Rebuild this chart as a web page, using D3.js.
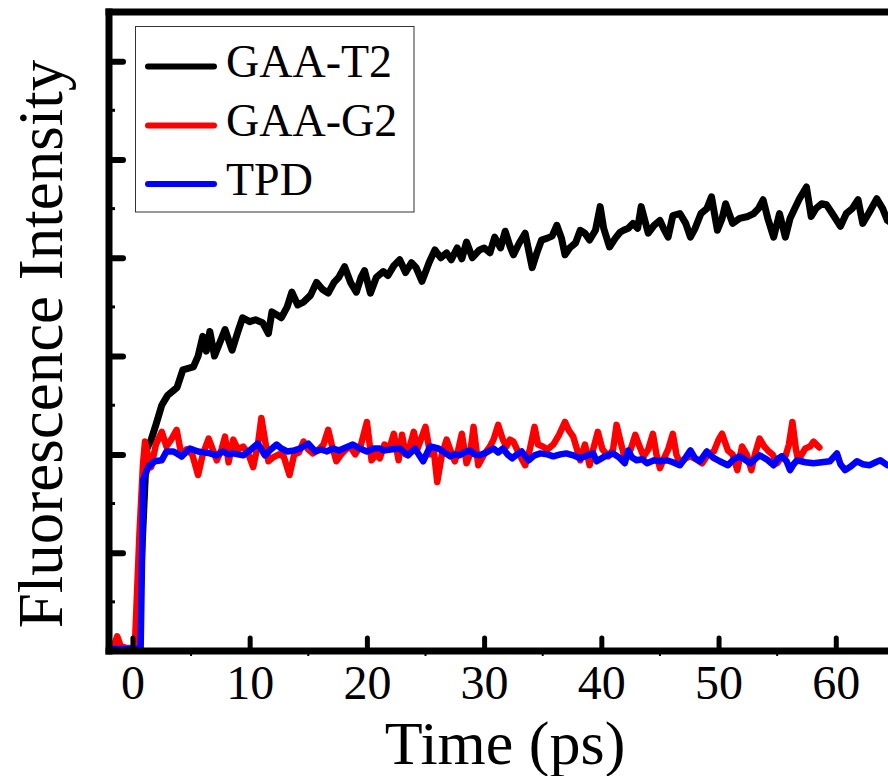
<!DOCTYPE html>
<html>
<head>
<meta charset="utf-8">
<script src="https://cdn.jsdelivr.net/npm/d3@7"></script>
<style>
  body { margin: 0; background: #fff; }
  svg { display: block; font-family: "Liberation Serif", "Times New Roman", serif; }
</style>
</head>
<body>
<svg id="chart" width="888" height="776"></svg>
<script>
// series: time (ps) and intensity (a.u., one major tick = 1)
const t2Time = [-2, 0.5, 0.8, 1.2, 1.6, 2.0, 2.5, 3.0, 3.5, 3.8, 4.3, 5.2, 5.6, 6.0, 6.3, 6.6, 7.0, 7.5, 7.9, 8.5, 9.0, 9.4, 10.0, 10.5, 11.1, 11.6, 11.9, 12.3, 12.7, 13.2, 13.6, 14.1, 14.6, 15.2, 15.7, 16.2, 16.7, 17.2, 17.6, 18.1, 18.6, 19.1, 19.5, 19.8, 20.3, 20.8, 21.4, 21.8, 22.3, 22.8, 23.3, 23.8, 24.2, 24.7, 25.3, 25.8, 26.3, 26.8, 27.2, 27.7, 28.1, 28.5, 29.0, 29.6, 30.0, 30.5, 30.9, 31.4, 31.8, 32.2, 32.5, 33.0, 33.5, 34.1, 34.5, 34.9, 35.4, 35.8, 36.2, 36.6, 36.9, 37.3, 37.8, 38.2, 38.6, 39.0, 39.5, 39.9, 40.2, 40.7, 41.2, 41.6, 41.9, 42.3, 42.7, 43.1, 43.4, 44.0, 44.5, 45.0, 45.3, 45.7, 46.1, 46.7, 47.2, 47.6, 48.0, 48.5, 49.0, 49.4, 49.9, 50.3, 50.6, 51.2, 51.8, 52.5, 53.0, 53.4, 53.8, 54.2, 54.7, 55.2, 55.7, 56.1, 56.5, 56.9, 57.5, 57.9, 58.3, 58.8, 59.2, 59.7, 60.4, 60.9, 61.4, 61.9, 62.3, 62.8, 63.5, 64.0, 64.4, 64.8, 65.2];
const t2Value = [0.02, 0.02, 1.0, 2.05, 2.15, 2.3, 2.5, 2.6, 2.65, 2.68, 2.86, 2.89, 3.0, 3.2, 3.05, 3.25, 3.0, 3.15, 3.27, 3.06, 3.25, 3.39, 3.35, 3.37, 3.34, 3.23, 3.45, 3.42, 3.39, 3.5, 3.65, 3.52, 3.55, 3.62, 3.75, 3.68, 3.64, 3.75, 3.8, 3.91, 3.75, 3.65, 3.8, 3.87, 3.64, 3.8, 3.86, 3.82, 3.92, 3.98, 3.85, 3.95, 3.9, 3.76, 3.95, 4.08, 4.0, 4.05, 3.98, 4.1, 3.99, 4.16, 4.0, 4.08, 4.1, 4.05, 4.21, 4.1, 4.27, 4.12, 4.03, 4.15, 4.25, 3.9, 4.05, 4.18, 4.2, 4.22, 4.33, 4.2, 4.03, 4.1, 4.15, 4.28, 4.25, 4.18, 4.28, 4.52, 4.3, 4.11, 4.2, 4.26, 4.28, 4.3, 4.35, 4.3, 4.52, 4.25, 4.33, 4.38, 4.3, 4.21, 4.43, 4.45, 4.35, 4.21, 4.3, 4.45, 4.5, 4.62, 4.28, 4.4, 4.55, 4.35, 4.4, 4.42, 4.45, 4.5, 4.59, 4.4, 4.21, 4.45, 4.21, 4.4, 4.5, 4.6, 4.72, 4.42, 4.5, 4.55, 4.54, 4.45, 4.32, 4.45, 4.5, 4.59, 4.35, 4.45, 4.6, 4.5, 4.38, 4.35, 4.4];

const g2Time = [-2, -1.6, -1.3, -1.0, -0.5, 0.2, 0.6, 0.9, 1.07, 1.3, 1.6, 2.0, 2.5, 2.9, 3.3, 3.77, 4.2, 4.6, 5.1, 5.6, 6.0, 6.5, 7.2, 7.6, 7.9, 8.2, 8.6, 9.0, 9.45, 9.9, 10.3, 10.7, 11.0, 11.3, 11.6, 12.0, 12.5, 12.9, 13.4, 13.8, 14.2, 14.6, 15.0, 15.4, 15.9, 16.3, 16.7, 17.0, 17.4, 17.8, 18.2, 18.6, 19.0, 19.5, 20.0, 20.4, 20.8, 21.1, 21.5, 21.9, 22.3, 22.7, 23.0, 23.3, 23.7, 24.0, 24.3, 24.6, 25.0, 25.4, 25.7, 26.0, 26.4, 26.8, 27.1, 27.5, 27.8, 28.1, 28.5, 28.8, 29.1, 29.5, 30.0, 30.5, 30.8, 31.2, 31.6, 31.9, 32.2, 32.5, 33.0, 33.5, 33.9, 34.3, 34.6, 35.0, 35.4, 35.9, 36.4, 36.9, 37.2, 37.6, 38.2, 38.6, 39.0, 39.3, 39.7, 40.1, 40.6, 41.0, 41.3, 41.7, 42.0, 42.5, 42.9, 43.2, 43.6, 44.0, 44.4, 44.7, 45.0, 45.3, 45.7, 46.1, 46.4, 46.7, 47.2, 47.6, 48.1, 48.6, 49.1, 49.6, 50.0, 50.3, 50.8, 51.2, 51.6, 52.0, 52.4, 52.8, 53.1, 53.5, 53.9, 54.2, 54.6, 55.0, 55.4, 55.7, 56.0, 56.3, 56.6, 56.8, 57.1, 57.4, 57.8, 58.1, 58.6];
const g2Value = [0.05, 0.05, 0.15, 0.05, 0.03, 0.03, 1.2, 1.9, 2.13, 2.0, 1.87, 2.1, 2.23, 2.08, 2.15, 2.25, 1.98, 2.05, 2.0, 1.79, 2.0, 2.16, 1.94, 2.05, 2.18, 1.92, 2.15, 2.05, 2.08, 2.0, 1.87, 2.1, 2.37, 2.15, 1.93, 1.97, 2.0, 1.98, 1.79, 2.0, 2.02, 2.13, 2.05, 2.01, 2.05, 2.1, 2.25, 2.1, 1.93, 2.0, 2.05, 2.08, 2.0, 2.1, 2.33, 1.94, 2.0, 1.96, 2.1, 2.05, 2.21, 1.94, 2.2, 2.0, 2.1, 2.23, 2.05, 2.15, 2.28, 2.0, 2.05, 1.72, 2.0, 2.15, 2.05, 1.93, 2.05, 2.21, 1.91, 2.0, 2.28, 1.89, 2.0, 2.08, 2.15, 2.3, 2.15, 2.08, 2.15, 2.13, 2.0, 1.89, 2.05, 2.28, 2.1, 2.08, 2.05, 2.1, 2.2, 2.33, 2.25, 2.18, 1.94, 2.1, 1.89, 2.05, 2.23, 2.05, 1.98, 2.05, 2.3, 2.1, 1.96, 2.05, 2.2, 2.1, 1.98, 2.05, 2.21, 2.0, 1.86, 1.95, 2.05, 2.21, 2.0, 1.91, 1.96, 1.98, 1.95, 1.91, 2.0, 2.03, 2.15, 2.21, 2.04, 2.0, 1.84, 2.08, 2.0, 1.84, 2.0, 2.16, 2.08, 2.04, 2.0, 1.91, 1.98, 1.98, 2.1, 2.33, 2.05, 1.94, 2.0, 2.06, 2.08, 2.13, 2.07];

const tpdTime = [-2, 0.7, 0.92, 1.35, 1.9, 2.5, 2.9, 3.5, 4.2, 4.9, 5.6, 6.1, 6.6, 7.2, 7.7, 8.2, 8.6, 9.0, 9.45, 10.0, 10.7, 11.3, 11.8, 12.3, 12.7, 13.2, 13.8, 14.3, 15.0, 15.6, 16.1, 16.6, 17.1, 17.6, 18.2, 18.8, 19.4, 20.0, 20.6, 21.1, 21.4, 22.0, 22.8, 23.5, 24.1, 24.8, 25.4, 26.1, 26.6, 27.1, 27.5, 27.9, 28.3, 28.8, 29.2, 29.6, 30.2, 30.8, 31.2, 31.6, 32.0, 32.4, 32.8, 33.2, 33.8, 34.3, 34.8, 35.4, 35.9, 36.5, 37.0, 37.6, 38.2, 38.8, 39.3, 39.6, 40.3, 41.0, 41.5, 42.0, 42.3, 42.6, 43.0, 43.5, 43.9, 44.5, 45.0, 45.6, 46.1, 46.7, 47.2, 47.6, 48.0, 48.4, 49.0, 49.5, 50.1, 50.8, 51.3, 51.8, 52.2, 52.7, 53.1, 53.5, 54.1, 54.7, 55.0, 55.4, 55.8, 56.1, 56.4, 56.7, 57.4, 58.1, 58.8, 59.5, 60.1, 60.4, 60.8, 61.3, 61.8, 62.3, 62.9, 63.4, 63.8, 64.4, 65.0];
const tpdValue = [0.02, 0.02, 1.74, 1.87, 1.93, 1.94, 2.03, 2.03, 1.98, 2.06, 2.03, 2.02, 2.01, 1.99, 2.03, 2.0, 2.01, 2.0, 1.99, 2.04, 2.11, 1.99, 2.05, 2.1, 2.06, 2.03, 2.04, 2.06, 2.11, 2.03, 2.05, 2.03, 2.06, 2.04, 2.07, 2.1, 2.06, 2.03, 2.06, 2.06, 2.04, 2.05, 2.06, 1.99, 2.06, 1.93, 2.08, 2.06, 2.02, 1.98, 2.0, 1.99, 2.02, 2.04, 2.0, 1.99, 2.02, 2.06, 2.02, 2.06, 2.0, 1.96, 2.0, 2.03, 1.94, 1.99, 2.01, 2.0, 1.98, 2.0, 2.01, 1.99, 1.96, 1.99, 2.01, 1.93, 1.98, 2.01, 1.97, 1.91, 2.04, 1.97, 1.94, 1.95, 1.91, 1.94, 1.93, 1.94, 1.92, 1.89, 1.97, 2.04, 1.96, 1.93, 2.03, 1.97, 1.93, 1.89, 1.95, 1.98, 1.95, 1.91, 1.95, 1.99, 1.95, 1.89, 1.95, 1.98, 1.93, 1.84, 1.9, 1.94, 1.92, 1.91, 1.92, 1.93, 2.01, 1.9, 1.84, 1.88, 1.93, 1.9, 1.89, 1.92, 1.94, 1.89, 1.88];

const seriesNames = ['GAA-T2', 'GAA-G2', 'TPD'];
const seriesColors = ['#000000', '#ff0000', '#0000ff'];
const xTicks = [0, 10, 20, 30, 40, 50, 60];
const yTicks = [1, 2, 3, 4, 5, 6];

const svg = d3.select('#chart');

const x = d3.scaleLinear().domain([-2, 70]).range([109, 953]);
const y = d3.scaleLinear().domain([0, 6.5]).range([651, 12]);

// clip lines to the frame
svg.append('defs').append('clipPath').attr('id', 'plotClip')
  .append('rect').attr('x', x(-2)).attr('y', y(6.5)).attr('width', x(70) - x(-2)).attr('height', y(0) - y(6.5));

const toPoints = (ts, vs) => ts.map((t, i) => ({t: t, v: vs[i]}));
const series = [
  toPoints(t2Time, t2Value),
  toPoints(g2Time, g2Value),
  toPoints(tpdTime, tpdValue)
];

const line = d3.line().x(d => x(d.t)).y(d => y(d.v));

svg.append('g').attr('clip-path', 'url(#plotClip)')
  .selectAll('path').data(series).enter().append('path')
  .attr('d', line)
  .attr('fill', 'none')
  .attr('stroke', (d, i) => seriesColors[i])
  .attr('stroke-width', (d, i) => i === 0 ? 7 : 6.5)
  .attr('stroke-linejoin', 'round')
  .attr('stroke-linecap', 'round');

// x axis: inward ticks, labels below
const xAxis = d3.axisBottom(x).tickValues(xTicks).tickSizeInner(-13).tickSizeOuter(0).tickPadding(14);
const gx = svg.append('g').attr('transform', `translate(0, ${y(0)})`).call(xAxis);
gx.select('.domain').remove();
gx.selectAll('.tick line').attr('stroke', '#000').attr('stroke-width', 5).attr('stroke-linecap', 'round');
gx.selectAll('.tick text').attr('font-size', 48).attr('fill', '#000')
  .attr('font-family', '"Liberation Serif", "Times New Roman", serif');

// minor x ticks
svg.append('g').selectAll('line').data(d3.range(5, 70, 10)).enter().append('line')
  .attr('x1', d => x(d)).attr('x2', d => x(d))
  .attr('y1', y(0)).attr('y2', y(0) + 5)
  .attr('stroke', '#000').attr('stroke-width', 2);

// y axis: inward ticks, no labels
const yAxis = d3.axisLeft(y).tickValues(yTicks).tickSizeInner(-14).tickSizeOuter(0).tickFormat('');
const gy = svg.append('g').attr('transform', `translate(${x(-2)}, 0)`).call(yAxis);
gy.select('.domain').remove();
gy.selectAll('.tick line').attr('stroke', '#000').attr('stroke-width', 6).attr('stroke-linecap', 'round');

svg.append('g').selectAll('line').data([0.5, 1.5, 2.5, 3.5, 4.5, 5.5]).enter().append('line')
  .attr('x1', x(-2)).attr('x2', x(-2) + 6)
  .attr('y1', d => y(d)).attr('y2', d => y(d))
  .attr('stroke', '#000').attr('stroke-width', 3);

// frame
const frame = svg.append('g').attr('stroke', '#000').attr('stroke-width', 7).attr('stroke-linecap', 'square');
frame.append('line').attr('x1', x(-2)).attr('x2', x(70)).attr('y1', y(0)).attr('y2', y(0));
frame.append('line').attr('x1', x(-2)).attr('x2', x(70)).attr('y1', y(6.5)).attr('y2', y(6.5));
frame.append('line').attr('x1', x(-2)).attr('x2', x(-2)).attr('y1', y(0)).attr('y2', y(6.5));
frame.append('line').attr('x1', x(70)).attr('x2', x(70)).attr('y1', y(0)).attr('y2', y(6.5));

// axis titles
svg.append('text').attr('x', 505).attr('y', 764).attr('text-anchor', 'middle')
  .attr('font-size', 62).text('Time (ps)');
svg.append('text').attr('transform', 'translate(62, 344) rotate(-90)').attr('text-anchor', 'middle')
  .attr('font-size', 63).text('Fluorescence Intensity');

// legend
const legend = svg.append('g');
legend.append('rect').attr('x', 135.5).attr('y', 26.5).attr('width', 278.5).attr('height', 185.5)
  .attr('fill', '#fff').attr('stroke', '#333').attr('stroke-width', 1);
const rowY = [66.5, 125.5, 184];
const rows = legend.selectAll('g.row').data(seriesNames).enter().append('g').attr('class', 'row');
rows.append('line')
  .attr('x1', 148).attr('x2', 214)
  .attr('y1', (d, i) => rowY[i]).attr('y2', (d, i) => rowY[i])
  .attr('stroke', (d, i) => seriesColors[i]).attr('stroke-width', 6).attr('stroke-linecap', 'round');
rows.append('text')
  .attr('x', 226).attr('y', (d, i) => rowY[i] + 10.5)
  .attr('font-size', 46).text(d => d);
</script>
</body>
</html>
